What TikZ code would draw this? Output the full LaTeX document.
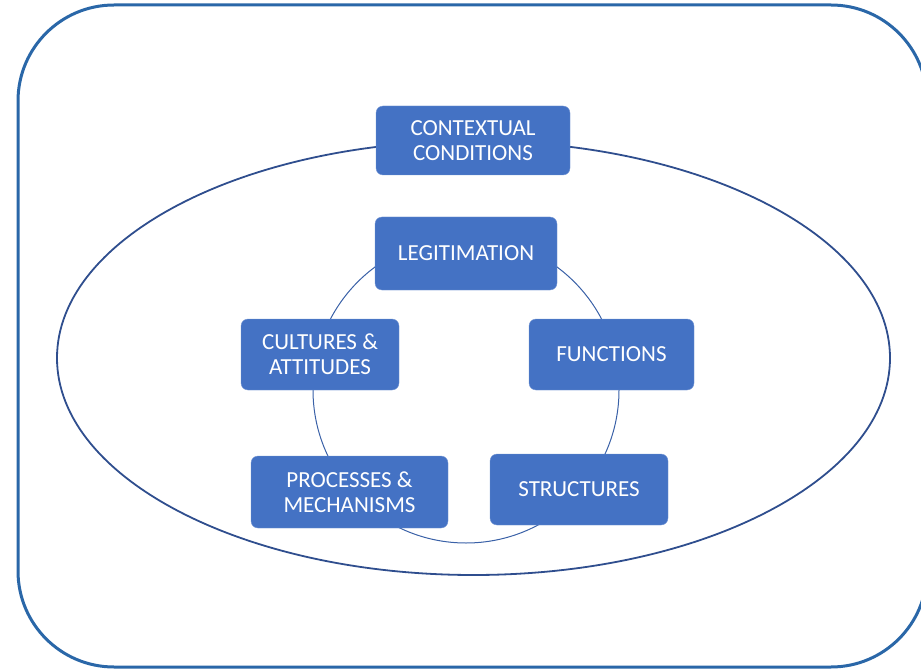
\documentclass[tikz,border=0pt]{standalone}
\usepackage{fontspec}
\setmainfont{Carlito}
\definecolor{frameblue}{HTML}{2A67A8}
\definecolor{ringblue}{HTML}{2F4E8E}
\definecolor{boxblue}{HTML}{4472C4}
\begin{document}
\begin{tikzpicture}[x=1pt,y=-1pt,
    stage/.style={draw=boxblue!75!white,fill=boxblue,rounded corners=7pt,text=white,
      align=center,font=\fontsize{23}{25}\selectfont,inner sep=0pt},
    ring/.style={draw=ringblue,line width=1.8pt},
    cycle line/.style={draw=boxblue!85!black,line width=1pt}]
    \useasboundingbox (0,0) rectangle (921,671);
    \clip (0,0) rectangle (921,671);
    %outer frame
    \draw [frameblue,line width=3pt,rounded corners=96pt] (18,5) rectangle (927,667);
    %context ellipse and cycle circle
    \draw [ring] (473.5,358) ellipse (416.5pt and 217pt);
    \draw [cycle line] (466,390) circle (153pt);
    %boxes
    \node [stage,minimum width=194pt,minimum height=69pt] (ctx) at (473,140.5) {CONTEXTUAL\\CONDITIONS};
    \node [stage,minimum width=182pt,minimum height=73pt] (legit) at (466,253.5) {LEGITIMATION};
    \node [stage,minimum width=165pt,minimum height=71pt] (func) at (611.5,354.5) {FUNCTIONS};
    \node [stage,minimum width=158pt,minimum height=71pt] (cult) at (320,354.5) {CULTURES \&\\ATTITUDES};
    \node [stage,minimum width=197pt,minimum height=72pt] (proc) at (349.5,492) {PROCESSES \&\\MECHANISMS};
    \node [stage,minimum width=178pt,minimum height=71pt] (struc) at (579,489.5) {STRUCTURES};
\end{tikzpicture}
\end{document}
